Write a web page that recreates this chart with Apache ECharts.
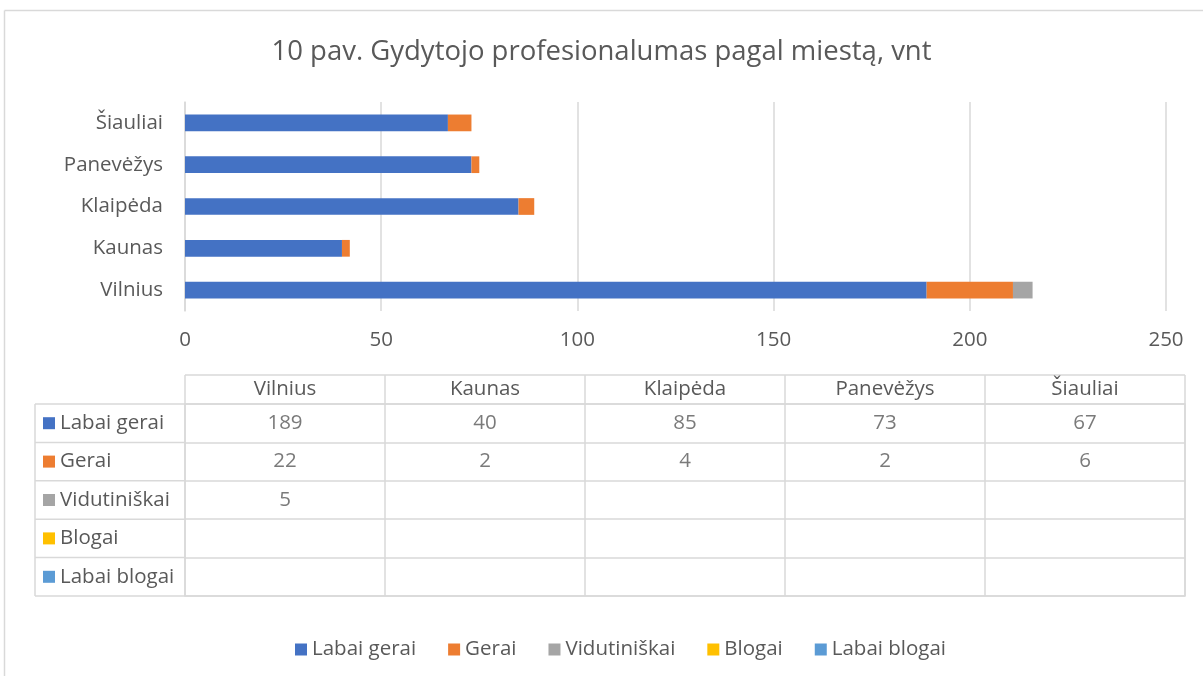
<!DOCTYPE html>
<html>
<head>
<meta charset="utf-8">
<script src="https://cdn.jsdelivr.net/npm/echarts@6/dist/echarts.min.js"></script>
<style>
  html, body { margin: 0; padding: 0; background: #fff; }
  #main { width: 1203px; height: 676px; }
</style>
</head>
<body>
<div id="main"></div>
<script>
var cities = ['Vilnius', 'Kaunas', 'Klaipėda', 'Panevėžys', 'Šiauliai'];
var seriesNames = ['Labai gerai', 'Gerai', 'Vidutiniškai', 'Blogai', 'Labai blogai'];
var colors = ['#4472C4', '#ED7D31', '#A5A5A5', '#FFC000', '#5B9BD5'];
// reiksmes pagal miesta (null - tuscia)
var labaiGerai = [189, 40, 85, 73, 67];
var gerai = [22, 2, 4, 2, 6];
var vidutiniskai = [5, null, null, null, null];
var blogai = [null, null, null, null, null];
var labaiBlogai = [null, null, null, null, null];
var valueTicks = [0, 50, 100, 150, 200, 250];

var allValues = [labaiGerai, gerai, vidutiniskai, blogai, labaiBlogai];
var font = '"Open Sans", sans-serif';
var fs = 20.5;
var textColor = '#595959';
var lineColor = '#D9D9D9';

// lentele (duomenu lentele po diagrama)
var tbl = {left: 185, top: 375, headH: 29, rowH: 38.4, colW: 200, labelLeft: 35};
var bodyTop = tbl.top + tbl.headH;
var bodyH = tbl.rowH * seriesNames.length;

var rich = {};
colors.forEach(function(c, i) {
    rich['s' + i] = {width: 12, height: 12, backgroundColor: c};
    rich['t' + i] = {fontSize: fs, fontFamily: font, color: textColor, padding: [0, 0, 0, 5]};
});

var series = [];
seriesNames.forEach(function(name, i) {
    series.push({
        name: name,
        type: 'bar',
        stack: 'total',
        barCategoryGap: '60%',
        itemStyle: {color: colors[i]},
        data: allValues[i]
    });
});

// lenteles reiksmes
var cellData = [];
allValues.forEach(function(arr, s) {
    arr.forEach(function(v, c) {
        if (v != null) cellData.push([c, s, v]);
    });
});
series.push({
    type: 'scatter',
    xAxisIndex: 1,
    yAxisIndex: 1,
    symbolSize: 0,
    silent: true,
    label: {
        show: true,
        position: 'inside',
        fontSize: fs,
        fontFamily: font,
        color: textColor,
        formatter: function(p) { return p.value[2]; }
    },
    data: cellData
});

// papildomos lenteles linijos
var lines = [];
function addLine(x1, y1, x2, y2) {
    lines.push({type: 'line', shape: {x1: x1, y1: y1, x2: x2, y2: y2},
        style: {stroke: lineColor, lineWidth: 1.5}, silent: true});
}
addLine(tbl.left, tbl.top, tbl.left + tbl.colW * cities.length, tbl.top);
for (var i = 0; i <= cities.length; i++) {
    addLine(tbl.left + tbl.colW * i, tbl.top, tbl.left + tbl.colW * i, bodyTop);
}
addLine(tbl.labelLeft, bodyTop, tbl.labelLeft, bodyTop + bodyH);
for (var j = 0; j <= seriesNames.length; j++) {
    addLine(tbl.labelLeft, bodyTop + tbl.rowH * j, tbl.left, bodyTop + tbl.rowH * j);
}
// remelis
addLine(4.5, 10.5, 1203, 10.5);
addLine(4.5, 10.5, 4.5, 676);

var chart = echarts.init(document.getElementById('main'));
var option = {
    backgroundColor: '#fff',
    animation: false,
    title: {
        text: '10 pav. Gydytojo profesionalumas pagal miestą, vnt',
        left: 'center',
        top: 33,
        textStyle: {fontSize: 27.5, fontWeight: 'normal', color: textColor, fontFamily: font}
    },
    legend: {
        bottom: 11,
        left: 290,
        icon: 'rect',
        itemWidth: 12,
        itemHeight: 12,
        itemGap: 32,
        data: seriesNames,
        textStyle: {fontSize: fs, color: textColor, fontFamily: font}
    },
    grid: [{
        left: 185, right: 37, top: 102, bottom: 365
    }, {
        left: tbl.left, top: bodyTop, width: tbl.colW * cities.length, height: bodyH,
        show: true, borderColor: lineColor, borderWidth: 1.5
    }],
    xAxis: [{
        type: 'value',
        min: valueTicks[0],
        max: valueTicks[valueTicks.length - 1],
        interval: 50,
        axisLine: {show: false},
        axisTick: {show: false},
        splitLine: {lineStyle: {color: lineColor, width: 1.5}},
        axisLabel: {fontSize: fs, color: textColor, fontFamily: font, margin: 19}
    }, {
        type: 'category',
        gridIndex: 1,
        position: 'top',
        data: cities,
        axisLine: {show: false},
        axisTick: {show: false},
        splitLine: {show: true, lineStyle: {color: lineColor, width: 1.5}},
        axisLabel: {fontSize: fs, color: textColor, fontFamily: font, margin: 4}
    }],
    yAxis: [{
        type: 'category',
        data: cities,
        axisLine: {show: true, lineStyle: {color: lineColor, width: 1.5}},
        axisTick: {show: false},
        axisLabel: {fontSize: fs, color: textColor, fontFamily: font, margin: 22}
    }, {
        type: 'category',
        gridIndex: 1,
        inverse: true,
        data: seriesNames,
        axisLine: {show: false},
        axisTick: {show: false},
        splitLine: {show: true, lineStyle: {color: lineColor, width: 1.5}},
        axisLabel: {
            align: 'left',
            margin: tbl.left - 43,
            formatter: function(v, i) { return '{s' + i + '|}{t' + i + '|' + v + '}'; },
            rich: rich
        }
    }],
    graphic: lines,
    series: series
};
chart.setOption(option);
</script>
</body>
</html>
